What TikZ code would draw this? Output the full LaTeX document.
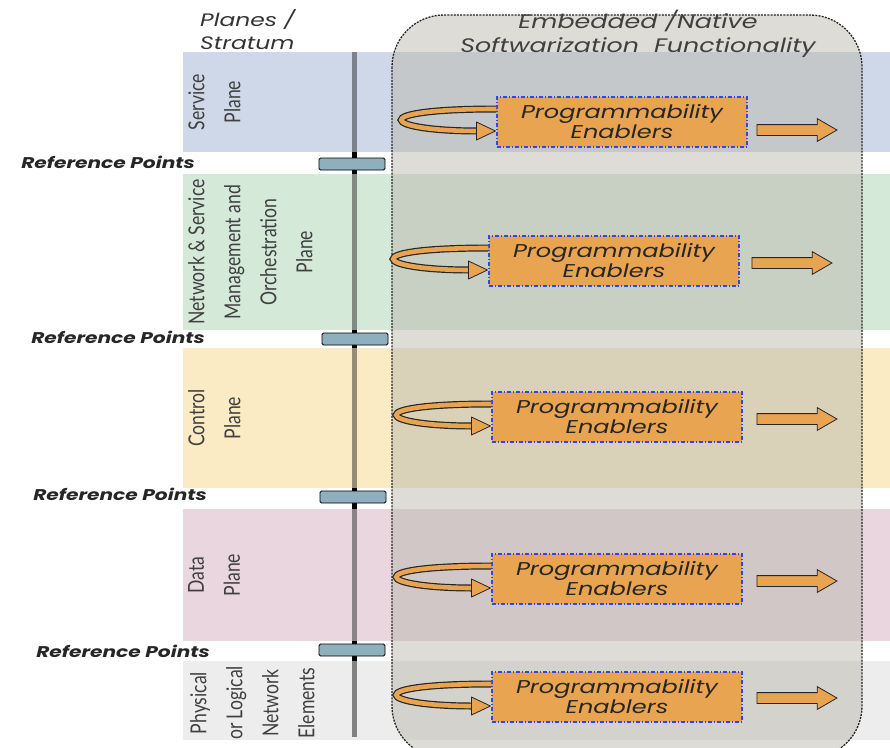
\documentclass[tikz,border=0pt]{standalone}
\usepackage{fontspec}
\usetikzlibrary{shapes.arrows,positioning,calc}
\newfontfamily\gothic[FakeStretch=1.3]{Poppins}
\newfontfamily\narrow[FakeStretch=0.8]{Lato}
\definecolor{servblue}{HTML}{CFD8E9}
\definecolor{mgmtgreen}{HTML}{D5E9D9}
\definecolor{ctrlyellow}{HTML}{FAEBC4}
\definecolor{datapink}{HTML}{E9D6DF}
\definecolor{physgray}{HTML}{EDEDED}
\definecolor{boxtint}{HTML}{BBB9AF}
\definecolor{pegold}{HTML}{E8A451}
\definecolor{peblue}{HTML}{2F45F0}
\definecolor{refteal}{HTML}{8DB0BC}

\begin{document}
\begin{tikzpicture}[x=1pt,y=-1pt,
  enabler/.style={draw=peblue, line width=1.1pt, dash pattern=on 4pt off 2pt on 1pt off 2pt,
    fill=pegold, minimum width=250pt, minimum height=50pt, align=center, inner sep=0pt,
    font=\gothic\itshape\fontsize{18.5}{20}\selectfont, text=black!85},
  outarrow/.style={single arrow, draw=black!85, line width=0.8pt, fill=pegold,
    minimum height=80pt, inner xsep=0pt, inner ysep=5pt, single arrow head extend=6pt,
    single arrow tip angle=60},
  refbox/.style={draw=black, line width=0.8pt, fill=refteal, rounded corners=1.5pt,
    minimum width=66pt, minimum height=12pt, inner sep=0pt},
  reflabel/.style={anchor=east, inner sep=0pt, text=black!85,
    font=\gothic\bfseries\itshape\fontsize{15.5}{17}\selectfont},
  planelabel/.style={rotate=90, anchor=north, align=center, inner sep=0pt, text=black!75,
    font=\narrow\fontsize{22}{36}\selectfont}]
\useasboundingbox (0,0) rectangle (890,747);

\fill[servblue] (183,52) rectangle (890,152);
\fill[mgmtgreen] (183,174) rectangle (890,330);
\fill[ctrlyellow] (183,348) rectangle (890,488);
\fill[datapink] (183,509) rectangle (890,641);
\fill[physgray] (183,661) rectangle (890,740);

\fill[black] (352,52) rectangle (357,737);
\fill[servblue!60!black] (352,52) rectangle (357,152);
\fill[mgmtgreen!60!black] (352,174) rectangle (357,330);
\fill[ctrlyellow!60!black] (352,348) rectangle (357,488);
\fill[datapink!60!black] (352,509) rectangle (357,641);
\fill[physgray!55!black] (352,661) rectangle (357,737);

\node[refbox] (rp1) at (352,164) {};
\node[refbox] (rp2) at (355,339) {};
\node[refbox] (rp3) at (353,497) {};
\node[refbox] (rp4) at (352,650) {};
\node[reflabel] (rl1) at (195,162) {Reference Points};
\node[reflabel] (rl2) at (205,337) {Reference Points};
\node[reflabel] (rl3) at (207,494) {Reference Points};
\node[reflabel] (rl4) at (210,651) {Reference Points};

\node[planelabel] (service) at (188,102) {Service\\Plane};
\node[planelabel] (mgmt) at (188,252) {Network \& Service\\Management and\\Orchestration\\Plane};
\node[planelabel] (control) at (188,418) {Control\\Plane};
\node[planelabel] (data) at (188,575) {Data\\Plane};
\node[planelabel] (phys) at (190,703) {Physical\\or Logical\\Network\\Elements};

\node[anchor=west, align=left, inner sep=0pt, text=black!80,
  font=\gothic\itshape\fontsize{18}{23}\selectfont] (stratum) at (200,30) {Planes /\\Stratum};

\draw[fill=boxtint, fill opacity=0.5, draw=black!85, line width=1.3pt,
  dash pattern=on 2pt off 1.2pt, rounded corners=52pt] (392,15) rectangle (862,758);
\node[align=center, inner sep=0pt, text=black!75,
  font=\gothic\itshape\fontsize{19.5}{24}\selectfont] (native) at (638,34)
  {Embedded /Native\\Softwarization\ \ Functionality};

\node[enabler] (pe1) at (622,122) {Programmability\\Enablers};
\node[enabler] (pe2) at (614,261) {Programmability\\Enablers};
\node[enabler] (pe3) at (617,417) {Programmability\\Enablers};
\node[enabler] (pe4) at (617,579) {Programmability\\Enablers};
\node[enabler] (pe5) at (617,697) {Programmability\\Enablers};

\node[outarrow, right=9pt of pe1, yshift=-8pt] (out1) {};
\node[outarrow, right=12pt of pe2, yshift=-2pt] (out2) {};
\node[outarrow, right=14pt of pe3, yshift=-2pt] (out3) {};
\node[outarrow, right=14pt of pe4, yshift=-2pt] (out4) {};
\node[outarrow, right=14pt of pe5, yshift=-1pt] (out5) {};

\foreach \r in {1,...,5}{
  \draw[line width=7pt, black!85] ($(pe\r.west)+(0,-13)$) .. controls +(-134,0) and +(-96,0) .. ($(pe\r.west)+(-18,9)$);
  \draw[line width=4.6pt, pegold] ($(pe\r.west)+(0,-13)$) .. controls +(-134,0) and +(-96,0) .. ($(pe\r.west)+(-18,9)$);
  \filldraw[fill=pegold, draw=black!85, line width=0.8pt, line join=round]
    ($(pe\r.west)+(-20,0)$) -- ($(pe\r.west)+(-1,9)$) -- ($(pe\r.west)+(-20,18)$) -- cycle;
}
\end{tikzpicture}
\end{document}
